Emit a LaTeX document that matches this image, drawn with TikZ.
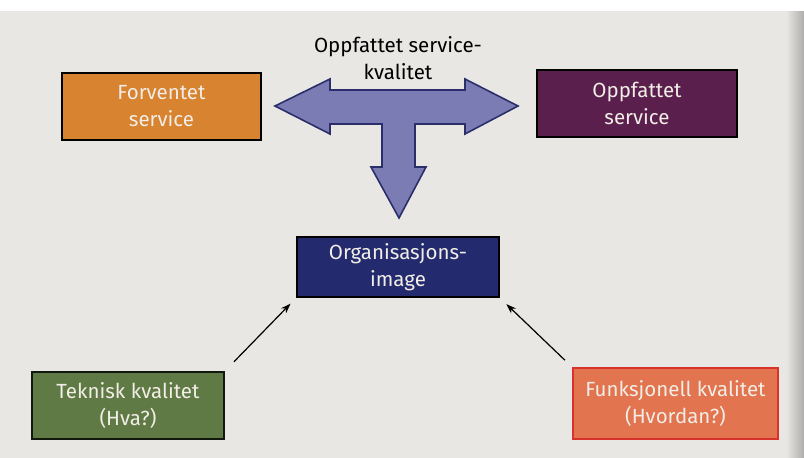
\documentclass[tikz,border=0pt]{standalone}
\usepackage{fontspec}
\setmainfont{Fira Sans}
\usetikzlibrary{arrows.meta}
\definecolor{pagebg}{HTML}{E8E7E4}
\definecolor{orangebox}{HTML}{D8832F}
\definecolor{purplebox}{HTML}{5A1F4C}
\definecolor{navybox}{HTML}{232B6E}
\definecolor{greenbox}{HTML}{5F7A45}
\definecolor{salmonbox}{HTML}{E2744F}
\definecolor{redborder}{HTML}{D9322B}
\definecolor{arrowfill}{HTML}{7B7CB3}
\definecolor{arrowline}{HTML}{2A2E6A}
\definecolor{boxtext}{HTML}{F2EDE6}
\begin{document}
\begin{tikzpicture}[x=1pt,y=-1pt,
  box/.style={draw=black, line width=1.8pt, text=boxtext, align=center, inner sep=0pt,
    font=\fontsize{20.5}{27}\selectfont},
  conn/.style={-{Stealth[length=10pt,width=7pt]}, line width=1.2pt, black}]
\fill[pagebg] (0,0) rectangle (804,458);
\fill[white] (0,0) rectangle (804,11);
\shade[left color=pagebg, right color=pagebg!75!black] (786,11) rectangle (804,458);

% T-shaped three-way arrow
\draw[fill=arrowfill, draw=arrowline, line width=1.6pt, line join=miter]
  (275,106) -- (330,79) -- (330,90) -- (465,90) -- (465,79) -- (518,106)
  -- (465,134) -- (465,124) -- (415,124) -- (415,167) -- (426,167)
  -- (399,218) -- (371,167) -- (382,167) -- (382,124) -- (330,124)
  -- (330,134) -- cycle;

\node[align=center, font=\fontsize{20.5}{27}\selectfont] (lbl) at (398,58) {Oppfattet service-\\kvalitet};

\node[box, fill=orangebox, minimum width=199pt, minimum height=67pt] (fs) at (161.5,106.5) {Forventet\\service};
\node[box, fill=purplebox, minimum width=200pt, minimum height=67pt] (os) at (637,103.5) {Oppfattet\\service};
\node[box, fill=navybox, minimum width=202pt, minimum height=60pt] (org) at (398,267) {Organisasjons-\\image};
\node[box, fill=greenbox, draw=black!80!greenbox, minimum width=192pt, minimum height=67pt] (tek) at (128,405.5) {Teknisk kvalitet\\(Hva?)};
\node[box, fill=salmonbox, draw=redborder, minimum width=205pt, minimum height=71pt] (fun) at (675.5,403.5) {Funksjonell kvalitet\\(Hvordan?)};

\draw[conn, shorten <=13pt, shorten >=8pt] (tek.north east) -- (org.south west);
\draw[conn, shorten <=10pt, shorten >=9pt] (fun.north west) -- (org.south east);
\end{tikzpicture}
\end{document}
